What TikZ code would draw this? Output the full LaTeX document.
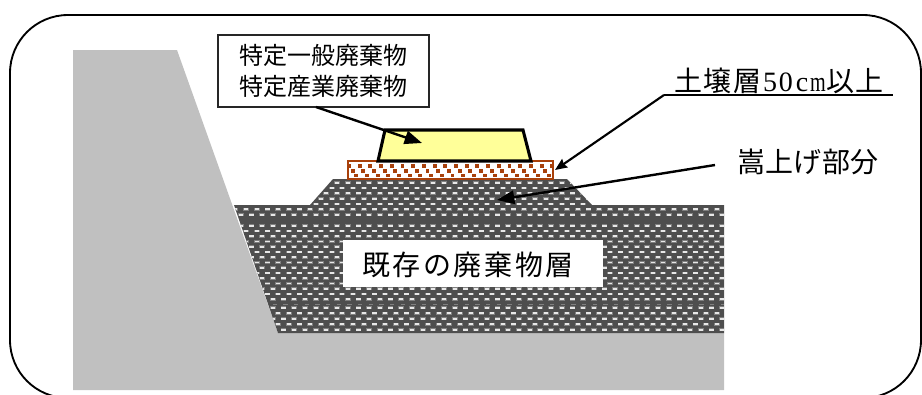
\documentclass[tikz,border=0pt]{standalone}
\usepackage{fontspec}
\usepackage{graphicx}
\setmainfont{Noto Sans CJK JP}
\newfontfamily\latinserif{Liberation Serif}
\usetikzlibrary{arrows.meta}
\definecolor{earth}{HTML}{C0C0C0}
\definecolor{waste}{HTML}{4E4E4E}
\definecolor{wastehalo}{HTML}{808080}
\definecolor{wastedash}{HTML}{E8E8E8}
\definecolor{soil}{HTML}{A8400A}
\definecolor{dumpfill}{HTML}{FFFF99}
\tikzset{
  x=0.75pt,y=-0.75pt,
  frameline/.style={draw=black,line width=1.4pt,rounded corners=43.5pt},
  label/.style={inner sep=0pt,font=\fontsize{21pt}{24pt}\selectfont},
  boxlabel/.style={draw=black!85,line width=1.2pt,fill=white,inner sep=0pt,minimum width=158pt,minimum height=54pt,align=center,font=\fontsize{18pt}{23.2pt}\selectfont},
  pointer/.style={draw=black,line width=1.8pt,-{Stealth[length=13pt,width=10pt,inset=0pt]}},
  thinpointer/.style={draw=black,line width=1.6pt,-{Stealth[length=9pt,width=7.5pt,inset=1pt]}},
}
\newcommand{\wastedot}[2]{%
  \fill[wastehalo] ({#1-2.9},{#2-1.4}) rectangle ++(5.8,2.8);
  \fill[wastedash] ({#1-2.1},{#2-0.9}) rectangle ++(4.2,1.8);
}
\newcommand{\wasterows}[3]{% first y, step, last index
  \foreach \r in {0,...,#3}{
    \pgfmathsetmacro{\yy}{#1+#2*\r}
    \pgfmathsetmacro{\off}{mod(\r,2)*5.35}
    \foreach \c in {0,...,47}{
      \wastedot{230+\off+10.7*\c}{\yy}
    }
  }
}
\newcommand{\halfch}[1]{\makebox[12pt][c]{#1}}
\begin{document}
\begin{tikzpicture}
\useasboundingbox (0,0) rectangle (922,394);
\begin{scope}
\clip (0,0) rectangle (922,394);
\draw[frameline] (10,15) rectangle (921,398);
\end{scope}
% ground
\fill[earth] (73,50) -- (177,50) -- (278,333) -- (724,333) -- (724,390) -- (73,390) -- cycle;
% existing waste
\begin{scope}
\clip (234,205) -- (310,205) -- (333,179) -- (567,179) -- (592,205) -- (724,205) -- (724,333) -- (278,333) -- cycle;
\fill[waste] (230,175) rectangle (730,335);
\wasterows{182.6}{5.35}{6}
\wasterows{225.7}{5.26}{14}
\wasterows{307.7}{5.5}{4}
\draw[wastehalo,line width=0.5pt,dash pattern=on 3.2pt off 4.8pt] (230,304.3) -- (730,304.3);
\end{scope}
\fill[white] (343,240) rectangle (603,287);
% soil layer
\fill[white] (348,161) rectangle (553,179);
\begin{scope}
\clip (348,161) rectangle (553,179);
\foreach \r in {0,1,2}{
  \pgfmathsetmacro{\yy}{165.8+4.8*\r}
  \pgfmathsetmacro{\off}{\r*3.6}
  \foreach \c in {0,...,19}{
    \fill[soil] ({347+\off+10.7*\c},{\yy-1.9}) rectangle ++(3.9,3.8);
  }
}
\end{scope}
\draw[soil,line width=1.1pt] (348,161) rectangle (553,179);
% dump
\draw[black,line width=2.3pt,fill=dumpfill] (385,130) -- (523,130) -- (531,161) -- (378,161) -- cycle;
% labels
\node[boxlabel] (box) at (323.5,71) {特定一般廃棄物\\特定産業廃棄物};
\node[label,anchor=base] (soillabel) at (779,91) {土\kern1.5pt 壌\kern1.5pt 層{\latinserif\fontsize{21pt}{24pt}\selectfont\halfch{5}\halfch{0}\halfch{c}\halfch{\scalebox{0.72}[1]{m}}}以\kern1.5pt 上};
\node[label] (raised) at (808,162) {嵩\kern.3pt 上\kern.3pt げ\kern.3pt 部\kern.3pt 分};
\node[label] (existing) at (468,265) {既\kern2pt 存\kern2pt の\kern2pt 廃\kern2pt 棄\kern2pt 物\kern2pt 層};
% connector anchors
\coordinate (boxout) at (316,107);
\coordinate (dumpin) at (422,143);
\coordinate (elbow) at (664,95);
\coordinate (lineend) at (893,95);
\coordinate (soilin) at (555,170);
\coordinate (raisedout) at (715,165);
\coordinate (raisedin) at (497,200);
\draw[pointer] (boxout) -- (dumpin);
\draw[black,line width=1.6pt] (elbow) -- (lineend);
\draw[thinpointer] (elbow) -- (soilin);
\draw[pointer] (raisedout) -- (raisedin);
\end{tikzpicture}
\end{document}
